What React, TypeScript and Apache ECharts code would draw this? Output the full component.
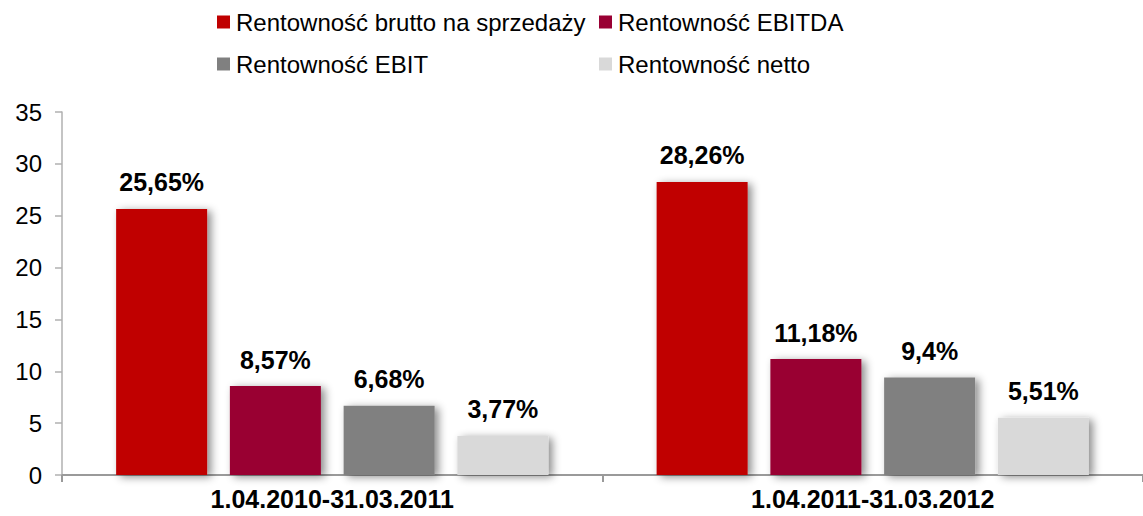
import React, { useEffect, useRef } from "react";
import * as echarts from "echarts";

const categories = ["1.04.2010-31.03.2011", "1.04.2011-31.03.2012"];
const seriesNames = [
  "Rentowność brutto na sprzedaży",
  "Rentowność EBITDA",
  "Rentowność EBIT",
  "Rentowność netto",
];
const brutto = [25.65, 28.26];
const ebitda = [8.57, 11.18];
const ebit = [6.68, 9.4];
const netto = [3.77, 5.51];
const colors = ["#C00000", "#990033", "#808080", "#D9D9D9"];
const yTicks = { min: 0, max: 35, interval: 5 };

const FONT = "'Liberation Sans', Arial, sans-serif";

export default function App() {
  const ref = useRef<HTMLDivElement>(null);
  useEffect(() => {
    if (!ref.current) return;
    const chart = echarts.init(ref.current, undefined, { renderer: "svg" });
    const values = [brutto, ebitda, ebit, netto];
    const legendPos = [
      { left: 217, top: 10 },
      { left: 599, top: 10 },
      { left: 217, top: 52 },
      { left: 599, top: 52 },
    ];
    chart.setOption({
      animation: false,
      textStyle: { fontFamily: FONT },
      legend: seriesNames.map((name, i) => ({
        data: [name],
        left: legendPos[i].left,
        top: legendPos[i].top,
        padding: 0,
        icon: "rect",
        itemWidth: 13,
        itemHeight: 13,
        itemGap: 0,
        selectedMode: false,
        textStyle: { fontSize: 24, color: "#000", fontFamily: FONT, padding: [0, 0, 0, 1] },
      })),
      grid: { left: 62, top: 112, bottom: 41, width: 1096, containLabel: false },
      xAxis: {
        type: "category",
        data: categories,
        axisLine: { show: true, lineStyle: { color: "#9a9a9a", width: 2 } },
        axisTick: { show: true, length: 7, lineStyle: { color: "#9a9a9a", width: 2 } },
        axisLabel: {
          fontSize: 25,
          fontWeight: "bold",
          color: "#000",
          margin: 11,
          fontFamily: FONT,
        },
      },
      yAxis: {
        type: "value",
        min: yTicks.min,
        max: yTicks.max,
        interval: yTicks.interval,
        splitLine: { show: false },
        axisLine: { show: true, lineStyle: { color: "#b0b0b0", width: 1.5 } },
        axisTick: { show: true, length: 7, lineStyle: { color: "#b0b0b0", width: 1.5 } },
        axisLabel: { fontSize: 24, color: "#000", margin: 20, fontFamily: FONT },
      },
      series: seriesNames.map((name, i) => ({
        name,
        type: "bar",
        data: values[i],
        barWidth: 91,
        barGap: "25%",
        itemStyle: {
          color: colors[i],
          shadowBlur: 8,
          shadowOffsetX: 4,
          shadowOffsetY: 2,
          shadowColor: "rgba(0,0,0,0.45)",
        },
        label: {
          show: true,
          position: "top",
          distance: 14,
          fontSize: 25,
          fontWeight: "bold",
          color: "#000",
          fontFamily: FONT,
          formatter: (p: any) => String(p.value).replace(".", ",") + "%",
        },
      })),
    });
    return () => chart.dispose();
  }, []);
  return (
    <div
      ref={ref}
      style={{ position: "absolute", left: 0, top: 0, width: 1143, height: 516 }}
    />
  );
}
